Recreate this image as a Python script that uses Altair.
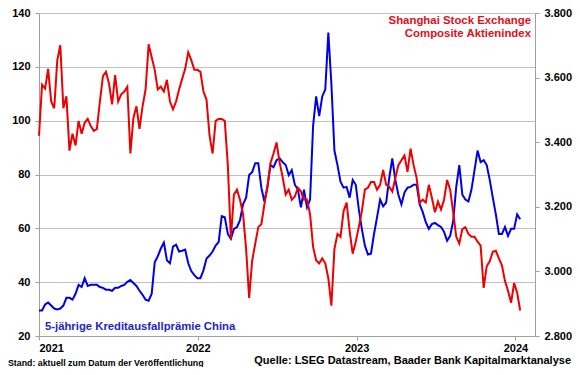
import altair as alt
import pandas as pd

# weekly observations, starting 2021-01-01
start_date = "2021-01-01"
n_weeks = 159

shanghai = [
    3420, 3578, 3566, 3627, 3526, 3505, 3654, 3700, 3505, 3542,
    3374, 3426, 3390, 3466, 3426, 3460, 3472, 3450, 3435, 3441,
    3526, 3605, 3618, 3581, 3517, 3608, 3526, 3548, 3557, 3572,
    3365, 3475, 3511, 3441, 3511, 3563, 3703, 3663, 3624, 3563,
    3572, 3557, 3593, 3526, 3502, 3526, 3563, 3596, 3627, 3678,
    3654, 3624, 3624, 3618, 3557, 3532, 3420, 3365, 3466, 3472,
    3472, 3466, 3329, 3101, 3238, 3253, 3222, 3177, 3070, 2918,
    3034, 3086, 3137, 3146, 3207, 3262, 3335, 3365, 3399, 3338,
    3292, 3238, 3253, 3222, 3232, 3259, 3247, 3222, 3222, 3177,
    3076, 3034, 3025, 3040, 3025, 2979, 2894, 3070, 3116, 3107,
    3186, 3213, 3125, 3055, 3092, 3137, 3186, 3253, 3259, 3277,
    3277, 3253, 3268, 3314, 3268, 3262, 3247, 3289, 3329, 3344,
    3359, 3308, 3380, 3329, 3289, 3213, 3222, 3213, 3268, 3228,
    3183, 3216, 3192, 3222, 3283, 3253, 3183, 3107, 3086, 3131,
    3137, 3116, 3107, 3107, 3092, 3080, 2949, 3016, 3031, 3061,
    3064, 3040, 3019, 2970, 2940, 2903, 2964, 2934, 2879,
]

cds = [
    29.5, 29.5, 31.7, 32.4, 31.3, 30.2, 29.9, 30.2, 31.3, 34.2,
    34.2, 33.5, 35.7, 39.0, 38.2, 41.5, 38.6, 39.0, 39.0, 39.0,
    38.2, 37.9, 37.2, 37.2, 36.8, 37.9, 37.9, 38.6, 39.0, 40.1,
    40.8, 39.7, 38.6, 36.8, 35.3, 33.5, 33.1, 35.7, 47.4, 49.6,
    52.5, 54.7, 48.1, 47.0, 53.2, 53.9, 51.4, 51.7, 52.1, 47.0,
    44.1, 42.6, 41.5, 41.5, 44.4, 48.8, 49.9, 51.4, 53.6, 55.0,
    64.5, 64.1, 57.9, 56.1, 59.8, 60.5, 63.0, 68.9, 71.4, 79.8,
    80.9, 84.2, 84.2, 75.1, 70.0, 75.4, 83.5, 82.7, 85.3, 86.0,
    84.6, 83.5, 79.8, 81.6, 76.2, 74.4, 67.8, 74.4, 67.8, 70.7,
    98.1, 109.0, 101.7, 109.0, 111.6, 132.7, 113.7, 88.9, 83.5, 77.3,
    75.1, 75.4, 71.4, 78.0, 76.2, 67.1, 59.8, 53.6, 50.3, 50.6,
    57.9, 64.1, 70.7, 68.2, 69.6, 78.7, 86.0, 78.0, 72.5, 68.9,
    73.3, 75.1, 75.4, 76.2, 76.2, 68.9, 66.0, 62.3, 59.8, 61.6,
    62.0, 61.2, 60.5, 58.7, 55.4, 57.2, 62.7, 75.4, 83.5, 72.5,
    70.7, 70.0, 74.4, 81.6, 88.9, 84.6, 85.3, 83.5, 78.0, 71.4,
    65.2, 57.9, 57.9, 60.5, 57.2, 59.8, 59.8, 65.2, 63.4,
]

left_ticks = [20, 40, 60, 80, 100, 120, 140]
right_ticks = [2800, 3000, 3200, 3400, 3600, 3800]
years = [2021, 2022, 2023, 2024]

title_sse = ["Shanghai Stock Exchange", "Composite Aktienindex"]
title_cds = "5-jährige Kreditausfallprämie China"
note_left = "Stand: aktuell zum Datum der Veröffentlichung"
note_right = "Quelle: LSEG Datastream, Baader Bank Kapitalmarktanalyse"

dates = pd.date_range(start_date, periods=n_weeks, freq="7D").strftime("%Y-%m-%d").tolist()
df = pd.DataFrame({"date": dates, "cds": cds, "sse": shanghai})

FONT = "Liberation Sans"
GRID = "#c0c0c0"
DOMAIN = "#a0a0a0"
RED = "#ee0000"
BLUE = "#0000e6"

W, H = 496, 323

x_enc = alt.X(
    "date:T",
    scale=alt.Scale(domain=[alt.DateTime(year=2021, month=1, date=1),
                            alt.DateTime(year=2024, month=2, date=15)]),
    axis=alt.Axis(
        values=[alt.DateTime(year=y, month=1, date=1) for y in years],
        format="%Y", title=None, grid=False, tickSize=4, tickColor=DOMAIN,
        domainColor=DOMAIN, labelFont=FONT, labelFontSize=11, labelFontWeight="bold",
        labelColor="black", labelPadding=2,
    ),
)

blue_line = alt.Chart(df).mark_line(color=BLUE, strokeWidth=2).encode(
    x=x_enc,
    y=alt.Y("cds:Q", scale=alt.Scale(domain=[20, 140], nice=False, zero=False),
            axis=alt.Axis(values=left_ticks, title=None, grid=True, gridColor=GRID,
                          tickSize=4, tickColor=DOMAIN, domainColor=DOMAIN,
                          labelFont=FONT, labelFontSize=11, labelFontWeight="bold",
                          labelColor="black", labelPadding=5)),
)

red_line = alt.Chart(df).mark_line(color=RED, strokeWidth=2).encode(
    x=x_enc,
    y=alt.Y("sse:Q", scale=alt.Scale(domain=[2800, 3800], nice=False, zero=False),
            axis=alt.Axis(values=right_ticks, orient="right", title=None, grid=False,
                          tickSize=4, tickColor=DOMAIN, domainColor=DOMAIN,
                          labelFont=FONT, labelFontSize=11, labelFontWeight="bold",
                          labelColor="black", labelPadding=5,
                          labelExpr="replace(format(datum.value, ','), ',', '.')")),
)

def label(text, x, y, color, size, align):
    return alt.Chart(pd.DataFrame({"t": [text]})).mark_text(
        font=FONT, fontSize=size, fontWeight="bold", color=color,
        align=align, baseline="middle",
    ).encode(text="t:N", x=alt.value(x), y=alt.value(y))

texts = [
    label(title_sse[0], 492, 8, "#e0101a", 11.4, "right"),
    label(title_sse[1], 492, 20.5, "#e0101a", 11.4, "right"),
    label(title_cds, 6, 314, "#1f1fc8", 11.3, "left"),
    label(note_left, -31, 350, "black", 8.8, "left"),
    label(note_right, 532, 348, "black", 11, "right"),
]

chart = alt.layer(blue_line, red_line, *texts).resolve_scale(y="independent").properties(
    width=W, height=H,
    autosize=alt.AutoSizeParams(type="none"),
    padding={"left": 31, "top": 5, "right": 37, "bottom": 31},
).configure_view(stroke=None)

chart.save("out.html", embed_options={"renderer": "svg", "actions": False})
